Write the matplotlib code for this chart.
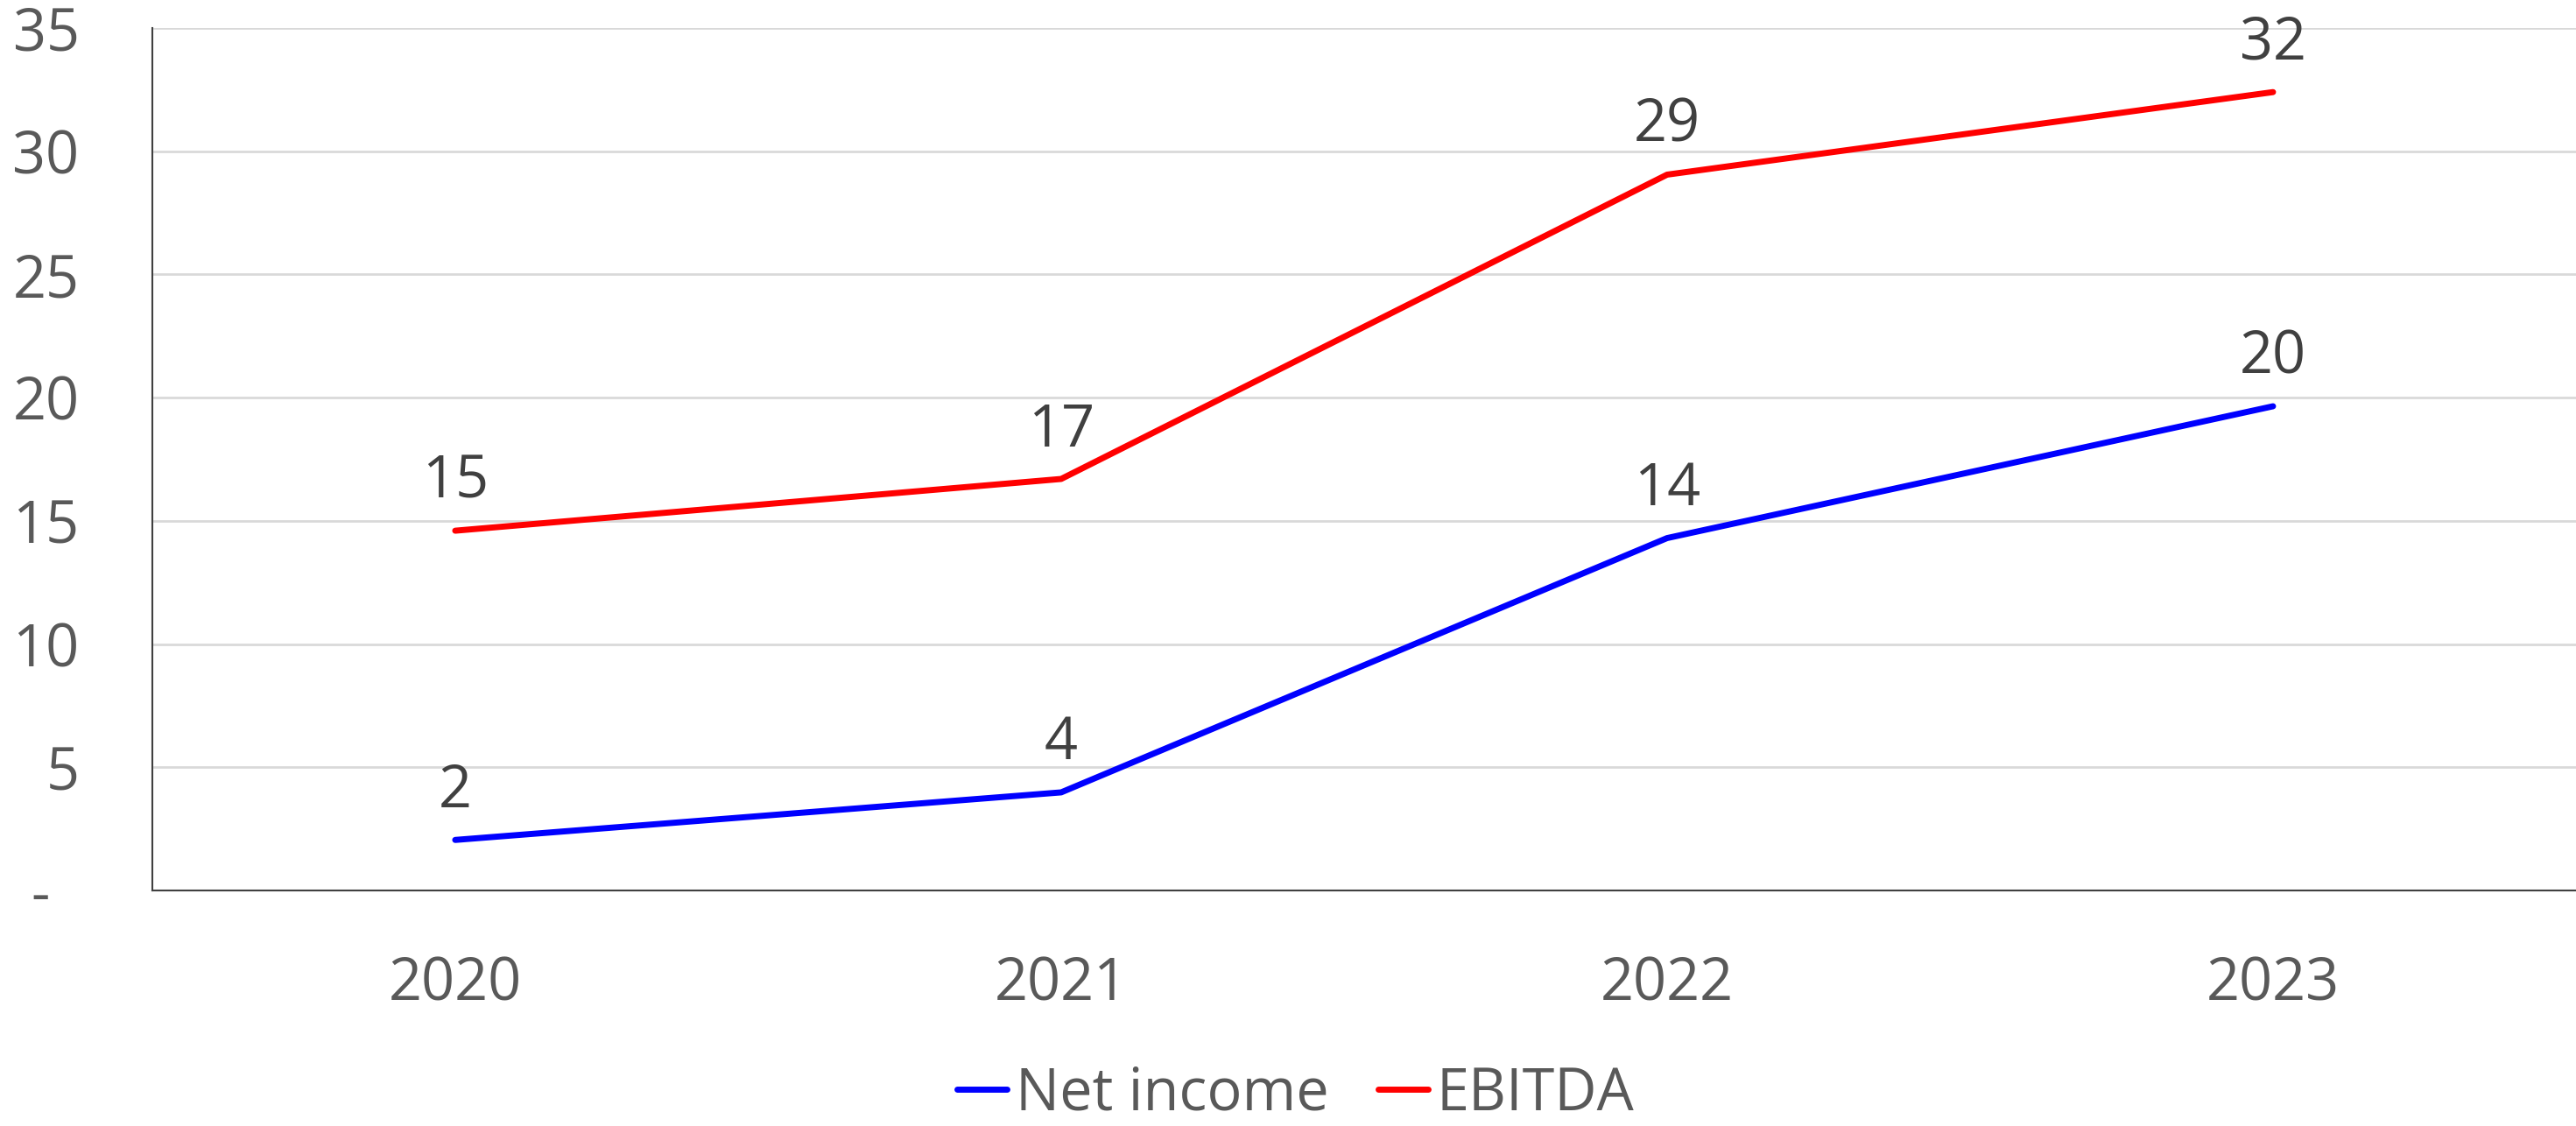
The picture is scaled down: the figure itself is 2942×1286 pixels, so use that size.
import matplotlib.pyplot as plt
import numpy as np
from matplotlib.ticker import FuncFormatter

plt.rcParams["font.family"] = ["Open Sans", "DejaVu Sans"]

# ---- data -------------------------------------------------------------------
years = ["2020", "2021", "2022", "2023"]
net_income = [2.05, 3.98, 14.3, 19.65]
ebitda = [14.6, 16.7, 29.05, 32.4]
series_names = ["Net income", "EBITDA"]
series_colors = ["#0000FF", "#FF0000"]

tick_color = "#595959"
label_color = "#404040"

fig = plt.figure(figsize=(29.42, 12.86), dpi=100)
ax = fig.add_axes([0.0591, 0.2092, 0.9409, 0.7659])

x = np.arange(len(years))
for vals, name, color in zip([net_income, ebitda], series_names, series_colors):
    ax.plot(x, vals, color=color, linewidth=5, label=name,
            solid_capstyle="round", solid_joinstyle="round", zorder=3)
    for xi, v in zip(x, vals):
        ax.annotate(f"{v:.0f}", (xi, v), xytext=(0, 27),
                    textcoords="offset points", ha="center", va="baseline",
                    fontsize=48, color=label_color, zorder=4)

ax.set_xlim(-0.5, len(years) - 0.5)
ax.set_ylim(0, 35)
ax.set_yticks(np.arange(0, 36, 5))
ax.yaxis.set_major_formatter(
    FuncFormatter(lambda v, _: "-\u2002" if v == 0 else f"{v:.0f}"))
ax.set_xticks(x)
ax.set_xticklabels(years)

ax.grid(axis="y", color="#D9D9D9", linewidth=2, zorder=0)
ax.set_axisbelow(True)
ax.tick_params(axis="both", length=0, labelsize=48, labelcolor=tick_color)
ax.tick_params(axis="y", pad=60)
ax.tick_params(axis="x", pad=53)

for side in ["top", "right"]:
    ax.spines[side].set_visible(False)
for side in ["left", "bottom"]:
    ax.spines[side].set_color("#404040")
    ax.spines[side].set_linewidth(1.5)

leg = fig.legend(loc="center", bbox_to_anchor=(0.503, 0.028), ncol=2,
                 frameon=False, fontsize=48, handlelength=0.85,
                 handletextpad=0.15, columnspacing=0.85)
for t in leg.get_texts():
    t.set_color(tick_color)

fig.savefig("out.png", dpi=100)
